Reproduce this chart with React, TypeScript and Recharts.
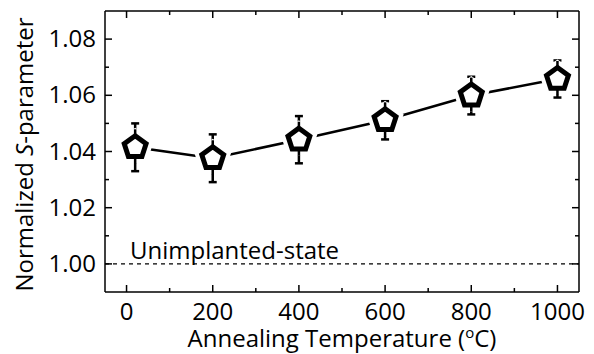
import React from 'react';
import {
  LineChart,
  Line,
  XAxis,
  YAxis,
  ErrorBar,
  ReferenceLine
} from 'recharts';

// annealing temperatures (°C) and measured S-parameter
const temperatures = [20, 200, 400, 600, 800, 1000];
const sParameter = [1.0415, 1.0376, 1.0442, 1.0511, 1.0599, 1.0658];
const sError = [0.0085, 0.0085, 0.0084, 0.0068, 0.0067, 0.0066];

const xTicks = [0, 100, 200, 300, 400, 500, 600, 700, 800, 900, 1000];
const yTicks = [1.0, 1.01, 1.02, 1.03, 1.04, 1.05, 1.06, 1.07, 1.08];
const refLevel = 1.0;
const refLabel = 'Unimplanted-state';

const data = temperatures.map((t, i) => ({ t, s: sParameter[i], err: sError[i] }));

const FONT = '"Open Sans", sans-serif';
const MAJOR = 7;
const MINOR = 4;
const R = 11.5;

const isMajorX = (v: number) => v % 200 === 0;
const isMajorY = (v: number) => Math.round(v * 100) % 2 === 0;

// pentagon outline around the data point
const pentagonPath = (cx: number, cy: number, r: number) => {
  const pts = [];
  for (let k = 0; k < 5; k++) {
    const a = -Math.PI / 2 + (k * 2 * Math.PI) / 5;
    pts.push(`${cx + r * Math.cos(a)},${cy + r * Math.sin(a)}`);
  }
  return `M${pts.join('L')}Z`;
};

// white gap between the connecting line and the marker;
// the short stem keeps the error bar visible through the gap
// eslint-disable-next-line @typescript-eslint/no-explicit-any
const haloDot = (props: any) => (
  <g key={`h-${props.index}`}>
    <path
      d={pentagonPath(props.cx, props.cy, R)}
      fill="#fff"
      stroke="#fff"
      strokeWidth={13}
      strokeLinejoin="miter"
    />
    <line x1={props.cx} x2={props.cx} y1={props.cy - 18} y2={props.cy + 16} stroke="#000" strokeWidth={2.5} />
  </g>
);

// eslint-disable-next-line @typescript-eslint/no-explicit-any
const pentagonDot = (props: any) => (
  <path
    key={`p-${props.index}`}
    d={pentagonPath(props.cx, props.cy, R)}
    fill="#fff"
    stroke="#000"
    strokeWidth={5}
    strokeLinejoin="miter"
  />
);

// eslint-disable-next-line @typescript-eslint/no-explicit-any
const bottomTick = (props: any) => {
  const { x, y, payload } = props;
  const major = isMajorX(payload.value);
  return (
    <g>
      <line x1={x} x2={x} y1={y} y2={y - (major ? MAJOR : MINOR)} stroke="#000" strokeWidth={1.5} />
      {major && (
        <text x={x} y={y + 28} textAnchor="middle" fontSize={24} fontFamily={FONT} fill="#000">
          {payload.value}
        </text>
      )}
    </g>
  );
};

// eslint-disable-next-line @typescript-eslint/no-explicit-any
const topTick = (props: any) => {
  const { x, y, payload } = props;
  const len = isMajorX(payload.value) ? MAJOR : MINOR;
  return <line x1={x} x2={x} y1={y} y2={y + len} stroke="#000" strokeWidth={1.5} />;
};

// eslint-disable-next-line @typescript-eslint/no-explicit-any
const leftTick = (props: any) => {
  const { x, y, payload } = props;
  const major = isMajorY(payload.value);
  return (
    <g>
      <line x1={x} x2={x + (major ? MAJOR : MINOR)} y1={y} y2={y} stroke="#000" strokeWidth={1.5} />
      {major && (
        <text x={x - 9} y={y + 8} textAnchor="end" fontSize={24} fontFamily={FONT} fill="#000">
          {payload.value.toFixed(2)}
        </text>
      )}
    </g>
  );
};

// eslint-disable-next-line @typescript-eslint/no-explicit-any
const rightTick = (props: any) => {
  const { x, y, payload } = props;
  const len = isMajorY(payload.value) ? MAJOR : MINOR;
  return <line x1={x} x2={x - len} y1={y} y2={y} stroke="#000" strokeWidth={1.5} />;
};

// eslint-disable-next-line @typescript-eslint/no-explicit-any
const xLabel = (props: any) => {
  const { x, y, width } = props.viewBox;
  return (
    <text x={x + width / 2} y={y + 55} textAnchor="middle" fontSize={24} fontFamily={FONT} fill="#000">
      Annealing Temperature (
      <tspan fontSize={15} dy={-9}>o</tspan>
      <tspan dy={9}>C)</tspan>
    </text>
  );
};

// eslint-disable-next-line @typescript-eslint/no-explicit-any
const yLabel = (props: any) => {
  const { y, height } = props.viewBox;
  const cx = 33;
  const cy = y + height / 2 + 3;
  return (
    <text
      x={cx}
      y={cy}
      transform={`rotate(-90 ${cx} ${cy})`}
      textAnchor="middle"
      fontSize={24}
      fontFamily={FONT}
      fill="#000"
    >
      Normalized <tspan fontStyle="italic">S</tspan>-parameter
    </text>
  );
};

// eslint-disable-next-line @typescript-eslint/no-explicit-any
const refText = (props: any) => {
  const { x, y } = props.viewBox;
  return (
    <text x={x + 25} y={y - 5} fontSize={24} fontFamily={FONT} fill="#000">
      {refLabel}
    </text>
  );
};

const App: React.FC = () => {
  return (
    <div style={{ position: 'absolute', left: 0, top: 0, width: 594, height: 354, background: '#fff' }}>
      <LineChart width={594} height={354} data={data} margin={{ top: 10, right: 14, left: 0, bottom: 0 }}>
        <XAxis
          dataKey="t"
          type="number"
          domain={[-50, 1050]}
          allowDataOverflow
          ticks={xTicks}
          interval={0}
          height={62}
          tickSize={0}
          tickMargin={0}
          tickLine={false}
          tick={bottomTick}
          axisLine={{ stroke: '#000', strokeWidth: 1.5 }}
          label={{ content: xLabel }}
        />
        <XAxis
          xAxisId="top"
          dataKey="t"
          orientation="top"
          type="number"
          domain={[-50, 1050]}
          allowDataOverflow
          ticks={xTicks}
          interval={0}
          height={1}
          tickSize={0}
          tickMargin={0}
          tickLine={false}
          tick={topTick}
          axisLine={{ stroke: '#000', strokeWidth: 1.5 }}
        />
        <YAxis
          type="number"
          domain={[0.99, 1.09]}
          allowDataOverflow
          ticks={yTicks}
          interval={0}
          width={105}
          tickSize={0}
          tickMargin={0}
          tickLine={false}
          tick={leftTick}
          axisLine={{ stroke: '#000', strokeWidth: 1.5 }}
          label={{ content: yLabel }}
        />
        <YAxis
          yAxisId="right"
          orientation="right"
          type="number"
          domain={[0.99, 1.09]}
          allowDataOverflow
          ticks={yTicks}
          interval={0}
          width={1}
          tickSize={0}
          tickMargin={0}
          tickLine={false}
          tick={rightTick}
          axisLine={{ stroke: '#000', strokeWidth: 1.5 }}
        />
        <ReferenceLine
          y={refLevel}
          stroke="#000"
          strokeWidth={1.2}
          strokeDasharray="4 4"
          label={{ content: refText }}
        />
        <Line
          xAxisId="top"
          yAxisId="right"
          type="linear"
          dataKey="s"
          stroke="#000"
          strokeWidth={2.5}
          dot={haloDot}
          activeDot={false}
          isAnimationActive={false}
        />
        <Line
          type="linear"
          dataKey="s"
          stroke="none"
          dot={pentagonDot}
          activeDot={false}
          isAnimationActive={false}
        >
          <ErrorBar dataKey="err" width={4} stroke="#000" strokeWidth={2.5} />
        </Line>
      </LineChart>
    </div>
  );
};

export default App;
